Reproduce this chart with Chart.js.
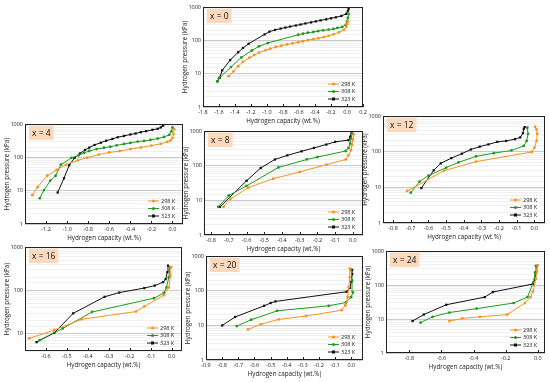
<!DOCTYPE html>
<html>
<head>
<meta charset="utf-8">
<script src="https://cdn.jsdelivr.net/npm/chart.js@4.4.0/dist/chart.umd.min.js"></script>
<style>
body{margin:0;background:#fff;width:550px;height:382px;position:relative;overflow:hidden}
.pn{position:absolute}
</style>
</head>
<body>
<script>
// series labels
var temps = ['298 K', '308 K', '323 K'];
var panelLabels = ['x = 0', 'x = 4', 'x = 8', 'x = 12', 'x = 16', 'x = 20', 'x = 24'];

// [hydrogen capacity (wt.%), hydrogen pressure (kPa)]
var x0_298 = [[-1.48,8.4],[-1.42,11.7],[-1.36,16.7],[-1.30,22.7],[-1.22,30],[-1.16,36],[-1.10,43],[-1.02,50],[-0.96,56],[-0.89,63],[-0.82,69],[-0.75,76],[-0.68,81],[-0.61,87],[-0.55,94],[-0.49,102],[-0.42,108],[-0.36,116],[-0.29,125],[-0.23,137],[-0.17,151],[-0.10,174],[-0.04,205],[-0.01,251],[0.0,306],[0.01,370]];
var x0_308 = [[-1.62,5.9],[-1.60,7.3],[-1.45,15.8],[-1.32,30.8],[-1.19,49.5],[-1.10,66],[-0.99,83],[-0.61,147],[-0.55,158],[-0.49,169],[-0.42,178],[-0.36,190],[-0.30,200],[-0.23,210],[-0.17,219],[-0.12,236],[-0.06,252],[-0.015,292],[0.0,370],[0.01,470],[0.02,620]];
var x0_323 = [[-1.62,5.9],[-1.59,7.6],[-1.56,12.6],[-1.46,25.6],[-1.36,44],[-1.30,59],[-1.23,79],[-1.03,151],[-0.97,182],[-0.90,205],[-0.83,225],[-0.77,241],[-0.71,259],[-0.64,279],[-0.58,299],[-0.52,321],[-0.45,345],[-0.39,370],[-0.33,397],[-0.26,427],[-0.20,458],[-0.14,491],[-0.07,540],[-0.01,623],[0.01,753],[0.02,870]];

var x4_298 = [[-1.33,7.3],[-1.28,12.9],[-1.19,28],[-1.10,42],[-1.01,60],[-0.90,81],[-0.81,98],[-0.70,121],[-0.60,140],[-0.50,154],[-0.40,177],[-0.30,198],[-0.20,225],[-0.11,255],[-0.05,290],[-0.02,320],[0.0,380],[0.01,500],[0.016,700]];
var x4_308 = [[-1.26,5.9],[-1.22,10.4],[-1.16,20],[-1.11,28],[-1.06,60],[-0.96,96],[-0.89,115],[-0.84,136],[-0.79,155],[-0.72,177],[-0.65,194],[-0.59,208],[-0.53,229],[-0.46,251],[-0.40,270],[-0.33,296],[-0.27,310],[-0.21,332],[-0.14,365],[-0.08,410],[-0.03,473],[-0.01,600],[0.0,790]];
var x4_323 = [[-1.09,8.8],[-1.03,23.5],[-0.98,58],[-0.93,96],[-0.88,130],[-0.83,166],[-0.79,195],[-0.74,235],[-0.68,275],[-0.63,316],[-0.57,356],[-0.52,400],[-0.46,440],[-0.40,485],[-0.35,519],[-0.30,570],[-0.25,611],[-0.19,671],[-0.14,720],[-0.11,790],[-0.09,890],[-0.08,990]];

var x8_298 = [[-0.73,6.5],[-0.69,11.1],[-0.59,23.4],[-0.45,42],[-0.30,66],[-0.15,107],[-0.04,151],[-0.025,199],[-0.011,278],[-0.006,390],[0.0,550],[0.004,800]];
var x8_308 = [[-0.76,6.5],[-0.70,13.8],[-0.60,26],[-0.42,89],[-0.26,151],[-0.20,177],[-0.04,265],[-0.025,325],[-0.015,436],[-0.01,610],[-0.004,850]];
var x8_323 = [[-0.75,6.5],[-0.60,36.6],[-0.52,86],[-0.44,151],[-0.37,198],[-0.29,259],[-0.22,325],[-0.15,407],[-0.10,487],[-0.025,545],[-0.015,680],[-0.008,910]];

var x12_298 = [[-0.72,7.9],[-0.51,29.5],[-0.33,52.6],[-0.015,98],[0.0,129],[0.012,200],[0.016,314],[0.012,420],[0.004,500]];
var x12_308 = [[-0.70,7.1],[-0.65,14.5],[-0.60,21.3],[-0.50,35.5],[-0.43,50],[-0.33,74],[-0.23,91],[-0.13,108],[-0.06,145],[-0.044,200],[-0.036,314],[-0.04,470]];
var x12_323 = [[-0.64,9.5],[-0.57,30],[-0.53,47],[-0.47,66],[-0.41,88],[-0.36,115],[-0.31,138],[-0.26,160],[-0.21,188],[-0.16,200],[-0.11,224],[-0.08,251],[-0.065,330],[-0.06,440],[-0.055,490]];

var x16_298 = [[-0.68,7.8],[-0.56,12.2],[-0.43,21.5],[-0.17,32.5],[-0.13,42.6],[-0.036,77.6],[-0.013,117],[-0.005,219],[-0.002,343]];
var x16_308 = [[-0.63,7.1],[-0.52,13.2],[-0.38,31.7],[-0.084,66],[-0.036,87],[-0.024,117],[-0.013,200],[-0.008,343]];
var x16_323 = [[-0.645,6.4],[-0.56,10.5],[-0.47,29.5],[-0.32,71],[-0.25,89],[-0.13,113],[-0.08,129],[-0.04,155],[-0.028,182],[-0.02,263],[-0.017,372]];

var x20_298 = [[-0.64,7.6],[-0.56,10.8],[-0.45,14.8],[-0.28,18.6],[-0.06,27.3],[-0.037,38],[-0.023,65],[-0.016,126],[-0.01,246],[-0.01,434]];
var x20_308 = [[-0.71,9.5],[-0.62,14.5],[-0.46,26.2],[-0.14,36.6],[-0.033,45.6],[-0.002,65],[0.01,89],[0.004,198],[-0.002,407]];
var x20_323 = [[-0.80,9.9],[-0.72,17.4],[-0.54,36.6],[-0.50,44],[-0.47,49],[-0.03,93],[-0.01,120],[0.0,180],[0.005,300],[0.005,400]];

var x24_298 = [[-0.55,8.7],[-0.47,10.4],[-0.36,11.6],[-0.19,13.5],[-0.08,29.5],[-0.045,44],[-0.03,65],[-0.012,151],[-0.006,294],[0.0,380]];
var x24_308 = [[-0.73,7.8],[-0.655,11.6],[-0.55,15.5],[-0.38,20.2],[-0.15,29.5],[-0.064,44],[-0.027,120],[-0.017,234],[-0.012,363]];
var x24_323 = [[-0.78,8.7],[-0.71,13.5],[-0.57,26.2],[-0.33,44],[-0.28,62],[-0.031,107],[-0.017,151],[-0.01,234],[-0.006,363]];

var colors = ['#f7931e', '#1f9a1f', '#111111'];
var L = 24, T = 6, R = 6, B = 18;

var panels = [
    {l: 203, t: 7,   r: 363, b: 107, xmin: -1.8,  xmax: 0.2,   step: 0.2, ymin: 1, sets: [x0_298, x0_308, x0_323]},
    {l: 25,  t: 124, r: 183, b: 224, xmin: -1.4,  xmax: 0.1,   step: 0.2, ymin: 1, sets: [x4_298, x4_308, x4_323]},
    {l: 204, t: 131, r: 363, b: 235, xmin: -0.84, xmax: 0.057, step: 0.1, ymin: 1, sets: [x8_298, x8_308, x8_323]},
    {l: 383, t: 116, r: 545, b: 223, xmin: -0.857,xmax: 0.06,  step: 0.1, ymin: 1, sets: [x12_298, x12_308, x12_323]},
    {l: 25,  t: 247, r: 182, b: 351, xmin: -0.7,  xmax: 0.05,  step: 0.1, ymin: 4, sets: [x16_298, x16_308, x16_323]},
    {l: 206, t: 256, r: 363, b: 360, xmin: -0.9,  xmax: 0.072, step: 0.1, ymin: 1, sets: [x20_298, x20_308, x20_323]},
    {l: 386, t: 251, r: 545, b: 353, xmin: -0.945,xmax: 0.045, step: 0.2, ymin: 1, sets: [x24_298, x24_308, x24_323]}
];

var FONT = '"Open Sans", Lato, sans-serif';

var framePlugin = {
    id: 'frame',
    afterDraw: function(chart) {
        var a = chart.chartArea, ctx = chart.ctx;
        var label = chart.options.plugins.frame.label;
        ctx.save();
        // inward x ticks
        ctx.strokeStyle = '#222';
        ctx.lineWidth = 1;
        var xs = chart.scales.x;
        xs.ticks.forEach(function(t) {
            var px = Math.round(xs.getPixelForValue(t.value)) + 0.5;
            ctx.beginPath();
            ctx.moveTo(px, a.bottom);
            ctx.lineTo(px, a.bottom - 3);
            ctx.stroke();
        });
        // box
        ctx.strokeStyle = '#222';
        ctx.strokeRect(Math.round(a.left) + 0.5, Math.round(a.top) + 0.5, Math.round(a.right - a.left) - 1, Math.round(a.bottom - a.top) - 1);

        // panel tag
        ctx.font = '8.5px ' + FONT;
        var tw = ctx.measureText(label).width;
        ctx.fillStyle = '#fbd9bd';
        ctx.fillRect(a.left + 4, a.top + 2, tw + 6, 14);
        ctx.fillStyle = '#111';
        ctx.textBaseline = 'middle';
        ctx.textAlign = 'left';
        ctx.fillText(label, a.left + 7, a.top + 9.5);

        // legend
        ctx.font = '5.5px ' + FONT;
        chart.data.datasets.forEach(function(ds, i) {
            var y = a.bottom - 8 - (2 - i) * 7.5;
            var x0 = a.right - 35;
            ctx.strokeStyle = ds.borderColor;
            ctx.lineWidth = 1;
            ctx.beginPath();
            ctx.moveTo(x0, y);
            ctx.lineTo(x0 + 11, y);
            ctx.stroke();
            ctx.fillStyle = ds.borderColor;
            if (i === 2) {
                ctx.fillRect(x0 + 4, y - 1.5, 3, 3);
            } else {
                ctx.beginPath();
                ctx.arc(x0 + 5.5, y, 1.5, 0, Math.PI * 2);
                ctx.fill();
            }
            ctx.fillStyle = '#222';
            ctx.fillText(ds.label, x0 + 13, y);
        });
        ctx.restore();
    }
};

panels.forEach(function(p, k) {
    var w = p.r - p.l + L + R;
    var h = p.b - p.t + T + B;
    var div = document.createElement('div');
    div.className = 'pn';
    div.style.left = (p.l - L) + 'px';
    div.style.top = (p.t - T) + 'px';
    div.style.width = w + 'px';
    div.style.height = h + 'px';
    var cv = document.createElement('canvas');
    cv.width = w;
    cv.height = h;
    div.appendChild(cv);
    document.body.appendChild(div);

    var datasets = p.sets.map(function(s, i) {
        return {
            label: temps[i],
            data: s.map(function(d) { return {x: d[0], y: d[1]}; }),
            showLine: true,
            borderColor: colors[i],
            backgroundColor: colors[i],
            borderWidth: 1,
            pointStyle: i === 2 ? 'rect' : 'circle',
            pointRadius: i === 2 ? 1.6 : 1.4,
            pointBorderWidth: 0
        };
    });

    new Chart(cv.getContext('2d'), {
        type: 'scatter',
        data: {datasets: datasets},
        plugins: [framePlugin],
        options: {
            responsive: false,
            animation: false,
            layout: {padding: {top: T, right: R, left: 0, bottom: 0}},
            plugins: {
                legend: {display: false},
                tooltip: {enabled: false},
                frame: {label: panelLabels[k]}
            },
            scales: {
                x: {
                    type: 'linear',
                    min: p.xmin,
                    max: p.xmax,
                    grid: {display: false, drawTicks: false},
                    border: {display: false},
                    ticks: {
                        stepSize: p.step,
                        includeBounds: false,
                        padding: 2,
                        maxRotation: 0,
                        autoSkip: false,
                        color: '#222',
                        font: {size: 5.5, family: FONT},
                        callback: function(v) { return v.toFixed(1); }
                    },
                    title: {
                        display: true,
                        text: 'Hydrogen capacity (wt.%)',
                        color: '#222',
                        font: {size: 6.3, family: FONT},
                        padding: {top: 2, bottom: 0}
                    },
                    afterFit: function(s) {
                        s.height = B;
                        s.paddingLeft = 0; s.paddingRight = 0;
                    }
                },
                y: {
                    type: 'logarithmic',
                    min: p.ymin,
                    max: 1000,
                    border: {display: false},
                    grid: {
                        drawTicks: false,
                        lineWidth: 0.8,
                        color: function(c) {
                            var v = c.tick ? c.tick.value : 1;
                            var lg = Math.log10(v);
                            return Math.abs(lg - Math.round(lg)) < 1e-6 ? '#bdbdbd' : '#ececec';
                        }
                    },
                    ticks: {
                        autoSkip: false,
                        padding: 2,
                        color: '#222',
                        font: {size: 5.5, family: FONT},
                        callback: function(v) {
                            var lg = Math.log10(v);
                            return Math.abs(lg - Math.round(lg)) < 1e-6 ? String(Math.round(v)) : '';
                        }
                    },
                    title: {
                        display: true,
                        text: 'Hydrogen pressure (kPa)',
                        color: '#222',
                        font: {size: 6.3, family: FONT},
                        padding: {top: 2, bottom: 0}
                    },
                    afterFit: function(s) {
                        s.width = L;
                        s.paddingTop = 0; s.paddingBottom = 0;
                    }
                }
            }
        }
    });
});
</script>
</body>
</html>
